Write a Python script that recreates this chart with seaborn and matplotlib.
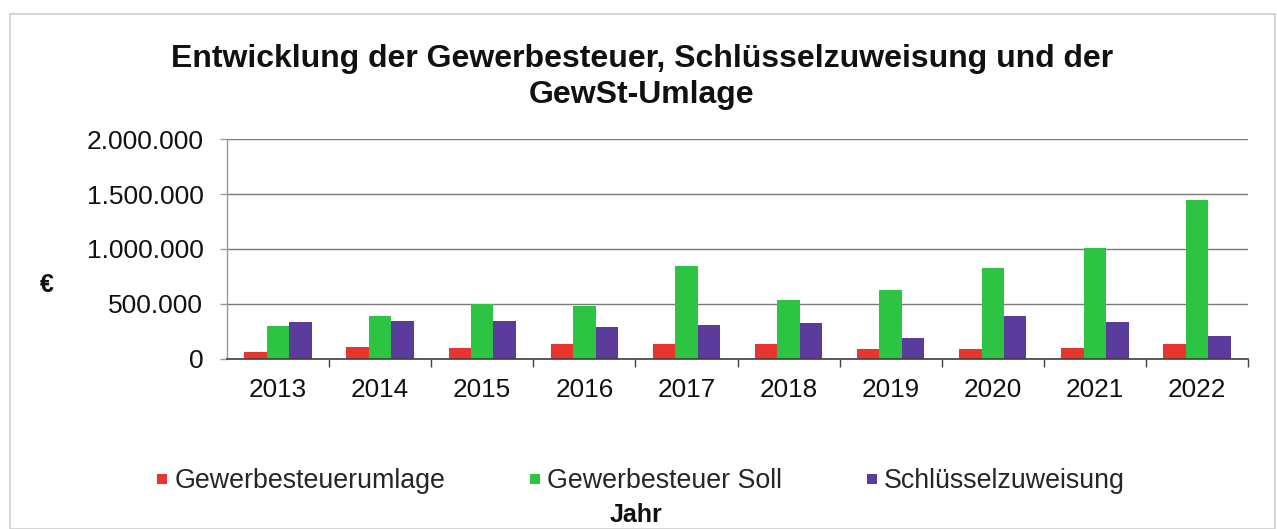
import matplotlib
matplotlib.use("Agg")
import matplotlib.pyplot as plt
import seaborn as sns
import pandas as pd
from matplotlib.lines import Line2D
from matplotlib.patches import Rectangle
from matplotlib.ticker import FuncFormatter, MultipleLocator, FixedLocator

years = ["2013", "2014", "2015", "2016", "2017", "2018", "2019", "2020", "2021", "2022"]
series_names = ["Gewerbesteuerumlage", "Gewerbesteuer Soll", "Schlüsselzuweisung"]
gewerbesteuerumlage = [58000, 101000, 97000, 128000, 128000, 135000, 85000, 85000, 95000, 128000]
gewerbesteuer_soll = [300000, 388000, 498000, 475000, 840000, 530000, 628000, 830000, 1005000, 1445000]
schluesselzuweisung = [332000, 344000, 344000, 283000, 305000, 328000, 184000, 390000, 329000, 207000]
colors = ["#E8352F", "#2EC443", "#5B3B9C"]

title = "Entwicklung der Gewerbesteuer, Schlüsselzuweisung und der\nGewSt-Umlage"
y_label = "€"
x_label = "Jahr"

rows = []
for name, vals in zip(series_names, [gewerbesteuerumlage, gewerbesteuer_soll, schluesselzuweisung]):
    for y, v in zip(years, vals):
        rows.append({"Jahr": y, "Serie": name, "Wert": v})
df = pd.DataFrame(rows)

sns.set_theme(style="white")
plt.rcParams["font.family"] = ["Liberation Sans", "DejaVu Sans"]

W, H = 1277, 529
fig = plt.figure(figsize=(W / 100, H / 100), dpi=100)
ax = fig.add_axes([227 / W, 1 - 358.5 / H, (1248 - 227) / W, (358.5 - 139.3) / H])

sns.barplot(data=df, x="Jahr", y="Wert", hue="Serie", order=years, hue_order=series_names,
            palette=colors, width=0.66, gap=0, linewidth=0, saturation=1, ax=ax, legend=False,
            zorder=3, errorbar=None)

ax.set_xlim(-0.5, len(years) - 0.5)
ax.set_ylim(0, 2000000)
ax.yaxis.set_major_locator(MultipleLocator(500000))
ax.yaxis.set_major_formatter(FuncFormatter(lambda v, p: f"{int(v):,}".replace(",", ".")))
ax.grid(axis="y", color="#7a7a7a", linewidth=1.0, zorder=0)
ax.grid(axis="x", visible=False)

for s in ["top", "right"]:
    ax.spines[s].set_visible(False)
ax.spines["left"].set_color("#9a9a9a")
ax.spines["left"].set_linewidth(1.0)
ax.spines["bottom"].set_color("#404040")
ax.spines["bottom"].set_linewidth(1.2)
ax.spines["bottom"].set_zorder(4)

ax.tick_params(axis="y", which="major", left=True, length=5, width=1, color="#9a9a9a",
               pad=12, labelsize=19, labelcolor="#111111")
ax.tick_params(axis="x", which="major", bottom=False, length=0, pad=14, labelsize=18.8,
               labelcolor="#111111")
ax.xaxis.set_minor_locator(FixedLocator([i + 0.5 for i in range(len(years))]))
ax.tick_params(axis="x", which="minor", bottom=True, length=6, width=1, color="#404040")
ax.set_xlabel("")
ax.set_ylabel("")

fig.text(642 / W, 1 - 77 / H, title, ha="center", va="center", fontsize=23,
         fontweight="bold", linespacing=1.25, color="#111111")
fig.text(47 / W, 1 - 285 / H, y_label, ha="center", va="center", fontsize=18,
         fontweight="bold", color="#111111")
fig.text(636 / W, 1 - 515 / H, x_label, ha="center", va="center", fontsize=18,
         fontweight="bold", color="#111111")

handles = [Line2D([0], [0], marker="s", linestyle="", markersize=7, markerfacecolor=c,
                  markeredgewidth=0) for c in colors]
fig.legend(handles, series_names, loc="center", bbox_to_anchor=(640 / W, 1 - 481 / H),
           ncol=3, frameon=False, fontsize=19.3, handlelength=0.5, handletextpad=0.2,
           columnspacing=3.1, borderpad=0)

fig.patches.append(Rectangle((10 / W, 0), (1275 - 10) / W, 1 - 14 / H,
                             transform=fig.transFigure, fill=False,
                             edgecolor="#cfcfcf", linewidth=1.2))

fig.savefig("out.png", dpi=100, facecolor="white")
